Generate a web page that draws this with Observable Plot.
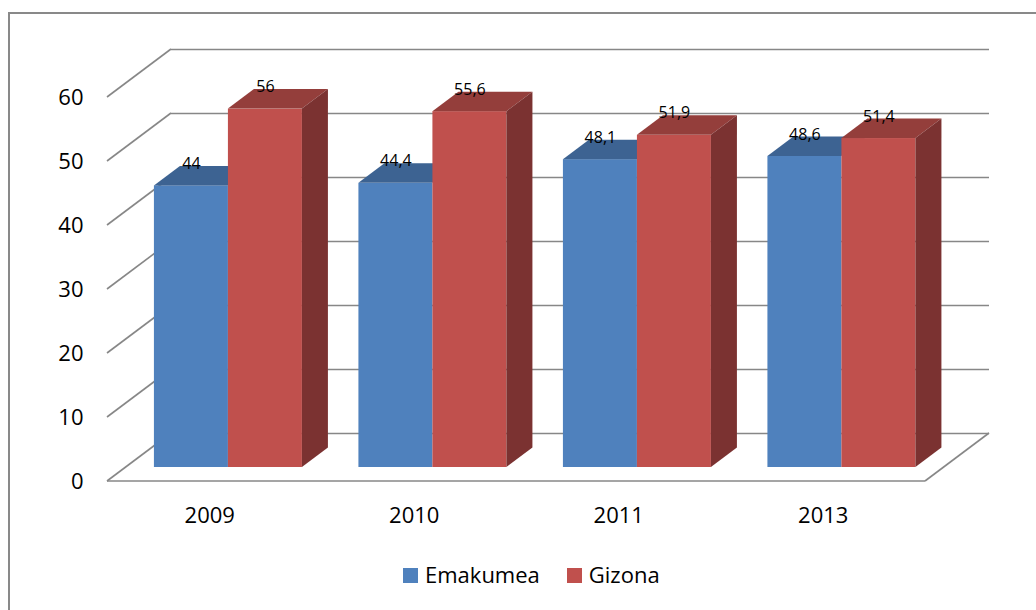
<!DOCTYPE html>
<html>
<head>
<meta charset="utf-8">
<script src="https://cdn.jsdelivr.net/npm/d3@7"></script>
<script src="https://cdn.jsdelivr.net/npm/@observablehq/plot@0.6"></script>
<style>
  html, body { margin: 0; padding: 0; background: #fff; }
  body { width: 1036px; height: 610px; overflow: hidden; position: relative; font-family: "Open Sans", sans-serif; }
  #chart { position: absolute; left: 0; top: 0; }
  #frame { position: absolute; left: 8px; top: 12px; right: 0; bottom: 0; border-left: 2px solid #898989; border-top: 2px solid #898989; pointer-events: none; }
  #legend { position: absolute; left: 403px; top: 563px; display: flex; align-items: center; font-size: 22px; line-height: 22px; color: #000; }
  #legend .item { display: flex; align-items: center; margin-right: 27px; }
  #legend .sw { width: 15px; height: 15px; margin-right: 7px; position: relative; top: 1px; }
</style>
</head>
<body>
<div id="chart"></div>
<div id="legend"></div>
<div id="frame"></div>
<script>
// ---- data ----
const years = ["2009", "2010", "2011", "2013"];
const series = ["Emakumea", "Gizona"];
const emakumea = [44, 44.4, 48.1, 48.6];
const gizona = [56, 55.6, 51.9, 51.4];
const yTicks = [0, 10, 20, 30, 40, 50, 60];

// ---- styles ----
const colors = ["#4F81BD", "#C0504D"];
const topColors = ["#3D6392", "#943E3B"];
const sideColors = ["#34537B", "#7B3231"];
const gridColor = "#878787";

const rows = years.flatMap((yr, i) => [
  {year: yr, series: series[0], s: 0, value: emakumea[i]},
  {year: yr, series: series[1], s: 1, value: gizona[i]}
]);
const fmt = v => String(v).replace(".", ",");

// ---- layout ----
const W = 1036, H = 540, X0 = 107, X1 = 925, Y0 = 481, YT = 97;
const PAD = 0.2763;
const BW = (X1 - X0) / years.length * (1 - PAD);
const DX = 64, DY = 48;            // full floor depth (px)
const BF = 14 / 48, BB = 33.5 / 48; // bar front / back depth fraction

function walls(index, scales) {
  const x = scales.x, y = scales.y;
  const [xa, xb] = x.range();
  const g = d3.create("svg:g").attr("stroke", gridColor).attr("stroke-width", 1.6).attr("fill", "none");
  for (const t of yTicks) {
    g.append("line").attr("x1", xa).attr("y1", y(t)).attr("x2", xa + DX).attr("y2", y(t) - DY);
  }
  g.append("line").attr("x1", xa).attr("y1", y(0)).attr("x2", xb).attr("y2", y(0));
  g.append("line").attr("x1", xb).attr("y1", y(0)).attr("x2", xb + DX).attr("y2", y(0) - DY);
  return g.node();
}

function faces(s) {
  return function (index, scales) {
    const x = scales.x, y = scales.y;
    const bw = typeof x.bandwidth === "function" ? x.bandwidth() : BW;
    const ddx = DX * (BB - BF), ddy = DY * (BB - BF);
    const g = d3.create("svg:g");
    rows.filter(d => d.s === s).forEach(d => {
      const xl = x(d.year) + s * bw / 2 + DX * BF;
      const xr = xl + bw / 2;
      const yt = y(d.value) - DY * BF;
      const yb = y(0) - DY * BF;
      g.append("polygon")
        .attr("points", [[xl, yt], [xr, yt], [xr + ddx, yt - ddy], [xl + ddx, yt - ddy]].join(" "))
        .attr("fill", topColors[s]);
      if (s === 1) {
        g.append("polygon")
          .attr("points", [[xr, yt], [xr + ddx, yt - ddy], [xr + ddx, yb - ddy], [xr, yb]].join(" "))
          .attr("fill", sideColors[s]);
      }
    });
    return g.node();
  };
}

const chart = Plot.plot({
  width: W, height: H,
  marginLeft: X0, marginRight: W - X1, marginTop: YT, marginBottom: H - Y0,
  style: {fontFamily: '"Open Sans", sans-serif', fontSize: "22px", color: "#000", background: "transparent", overflow: "visible"},
  x: {domain: years, paddingInner: PAD, paddingOuter: PAD / 2, round: false, tickSize: 0, tickPadding: 26, label: null},
  y: {domain: [0, 60], ticks: yTicks, tickSize: 0, tickPadding: 24, label: null},
  marks: [
    Plot.ruleY(yTicks, {dx: DX, dy: -DY, stroke: gridColor, strokeWidth: 1.6}),
    walls,
    Plot.barY(rows.filter(d => d.s === 0), {x: "year", y: "value", fill: colors[0], insetRight: BW / 2, dx: DX * BF, dy: -DY * BF}),
    faces(0),
    Plot.barY(rows.filter(d => d.s === 1), {x: "year", y: "value", fill: colors[1], insetLeft: BW / 2, dx: DX * BF, dy: -DY * BF}),
    faces(1),
    Plot.text(rows.filter(d => d.s === 0), {x: "year", y: "value", text: d => fmt(d.value), dx: DX * BF - BW / 4, dy: -DY * BF - 22, fontSize: 16, fill: "#000"}),
    Plot.text(rows.filter(d => d.s === 1), {x: "year", y: "value", text: d => fmt(d.value), dx: DX * BF + BW / 4, dy: -DY * BF - 22, fontSize: 16, fill: "#000"})
  ]
});
document.getElementById("chart").appendChild(chart);

const legend = d3.select("#legend");
series.forEach((name, i) => {
  const item = legend.append("div").attr("class", "item");
  item.append("span").attr("class", "sw").style("background", colors[i]);
  item.append("span").text(name);
});
</script>
</body>
</html>
